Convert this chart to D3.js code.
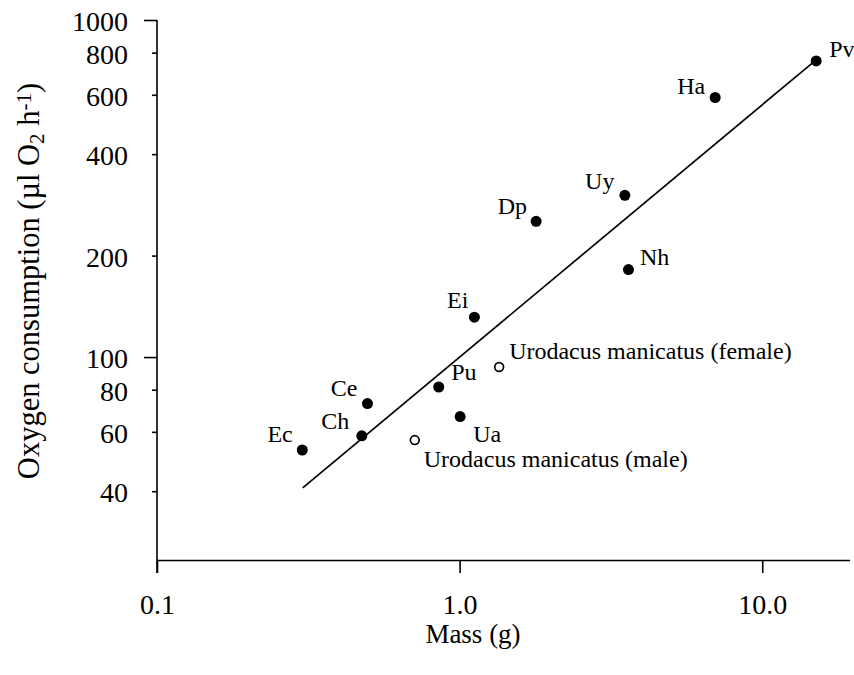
<!DOCTYPE html>
<html>
<head>
<meta charset="utf-8">
<script src="https://cdn.jsdelivr.net/npm/d3@7"></script>
<style>
  html, body { margin: 0; padding: 0; background: #fff; }
  svg { display: block; }
  text { font-family: "Liberation Serif", "Times New Roman", serif; fill: #000; }
</style>
</head>
<body>
<svg id="chart" width="854" height="675"></svg>
<script>
// ---- data ----
const species = ["Ec", "Ch", "Ce", "Pu", "Ua", "Ei", "Dp", "Uy", "Nh", "Ha", "Pv"];
const massG   = [0.302, 0.475, 0.496, 0.853, 1.004, 1.119, 1.790, 3.517, 3.614, 6.99, 15.08];
const oxygen  = [53.0, 58.4, 72.8, 81.5, 66.6, 131.3, 252.7, 301.8, 181.8, 588.9, 756];

const urodacusLabels = ["Urodacus manicatus (female)", "Urodacus manicatus (male)"];
const urodacusMass   = [1.351, 0.711];
const urodacusOxygen = [93.4, 56.7];

const regressionMass   = [0.303, 14.6];
const regressionOxygen = [40.9, 744];

const xTickValues = [0.1, 1, 10];
const xTickLabels = ["0.1", "1.0", "10.0"];
const yMajorTicks = [100, 1000];
const yMinorTicks = [40, 60, 80, 200, 400, 600, 800];

const xTitle = "Mass (g)";

// ---- label placement (layout only) ----
const labelPlacement = {
  "Ec": {dx: -9.5, dy: -8, anchor: "end"},
  "Ch": {dx: -12.5, dy: -6.5, anchor: "end"},
  "Ce": {dx: -10, dy: -8, anchor: "end"},
  "Pu": {dx: 12.5, dy: -7.5, anchor: "start"},
  "Ua": {dx: 13, dy: 25, anchor: "start"},
  "Ei": {dx: -6, dy: -9.5, anchor: "end"},
  "Dp": {dx: -9, dy: -7.5, anchor: "end"},
  "Uy": {dx: -10.5, dy: -6, anchor: "end"},
  "Nh": {dx: 11.5, dy: -5, anchor: "start"},
  "Ha": {dx: -10, dy: -4, anchor: "end"},
  "Pv": {dx: 13, dy: -4, anchor: "start"},
  "Urodacus manicatus (female)": {dx: 10, dy: -8.5, anchor: "start"},
  "Urodacus manicatus (male)": {dx: 9, dy: 27, anchor: "start"}
};

// ---- chart ----
const svg = d3.select("#chart");
const mLeft = 157, mRight = 850, mTop = 20, mBottom = 560;

const x = d3.scaleLog().domain([0.1, 19.5]).range([mLeft, mRight]);
const y = d3.scaleLog().domain([25, 1000]).range([mBottom, mTop]);

const tickFont = 28;

// x axis
const xAxis = d3.axisBottom(x)
  .tickValues(xTickValues)
  .tickFormat((d, i) => xTickLabels[i])
  .tickSize(13)
  .tickSizeOuter(0);
const gx = svg.append("g").attr("transform", `translate(0,${mBottom})`).call(xAxis);
gx.select(".domain").attr("d", `M${mLeft},0.5H${mRight}`);
gx.selectAll("path, line").attr("stroke", "#000").attr("stroke-width", 1.6);
gx.selectAll("text")
  .attr("y", 54).attr("dy", null)
  .style("font-size", tickFont + "px")
  .style("font-family", '"Liberation Serif", serif');

// y axis: major ticks
const yAxisMajor = d3.axisLeft(y)
  .tickValues(yMajorTicks)
  .tickFormat(d3.format("d"))
  .tickSize(13)
  .tickPadding(16)
  .tickSizeOuter(0);
const gyM = svg.append("g").attr("transform", `translate(${mLeft},0)`).call(yAxisMajor);
gyM.select(".domain").attr("d", `M0,${mTop}V${mBottom + 13}`);

// y axis: minor labelled ticks
const yAxisMinor = d3.axisLeft(y)
  .tickValues(yMinorTicks)
  .tickFormat(d3.format("d"))
  .tickSize(5)
  .tickPadding(24)
  .tickSizeOuter(0);
const gym = svg.append("g").attr("transform", `translate(${mLeft},0)`).call(yAxisMinor);
gym.select(".domain").remove();

[gyM, gym].forEach(g => {
  g.selectAll("path, line").attr("stroke", "#000").attr("stroke-width", 1.6);
  g.selectAll("text")
    .attr("dy", "0.375em")
    .style("font-size", tickFont + "px")
    .style("font-family", '"Liberation Serif", serif');
});

// axis titles
svg.append("text")
  .attr("x", 473).attr("y", 643)
  .attr("text-anchor", "middle")
  .style("font-size", "27px")
  .text(xTitle);

const yTitle = svg.append("text")
  .attr("transform", "translate(39,281) rotate(-90)")
  .attr("text-anchor", "middle")
  .style("font-size", "30.5px");
yTitle.append("tspan").text("Oxygen consumption (\u00b5l O");
yTitle.append("tspan").attr("baseline-shift", "-22%").style("font-size", "21px").text("2");
yTitle.append("tspan").text(" h");
yTitle.append("tspan").attr("baseline-shift", "40%").style("font-size", "21px").text("-1");
yTitle.append("tspan").text(")");

// regression line
const regData = regressionMass.map((m, i) => ({m, o: regressionOxygen[i]}));
svg.append("path")
  .datum(regData)
  .attr("fill", "none")
  .attr("stroke", "#000")
  .attr("stroke-width", 1.7)
  .attr("d", d3.line().x(d => x(d.m)).y(d => y(d.o)));

// species points
const pts = species.map((s, i) => ({name: s, m: massG[i], o: oxygen[i]}));
svg.selectAll("circle.sp").data(pts).enter().append("circle")
  .attr("class", "sp")
  .attr("cx", d => x(d.m)).attr("cy", d => y(d.o))
  .attr("r", 5.5)
  .attr("fill", "#000");

// Urodacus points (open)
const uro = urodacusLabels.map((s, i) => ({name: s, m: urodacusMass[i], o: urodacusOxygen[i]}));
svg.selectAll("circle.uro").data(uro).enter().append("circle")
  .attr("class", "uro")
  .attr("cx", d => x(d.m)).attr("cy", d => y(d.o))
  .attr("r", 4.4)
  .attr("fill", "#fff")
  .attr("stroke", "#000")
  .attr("stroke-width", 1.7);

// labels
svg.selectAll("text.lbl").data(pts.concat(uro)).enter().append("text")
  .attr("class", "lbl")
  .attr("x", d => x(d.m) + labelPlacement[d.name].dx)
  .attr("y", d => y(d.o) + labelPlacement[d.name].dy)
  .attr("text-anchor", d => labelPlacement[d.name].anchor)
  .style("font-size", "24px")
  .text(d => d.name);
</script>
</body>
</html>
